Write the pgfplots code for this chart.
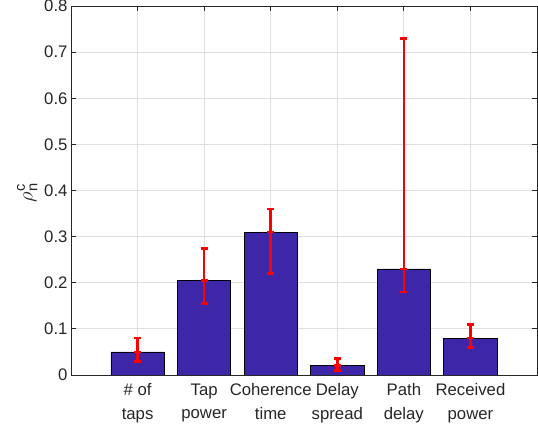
\documentclass[border=0pt]{standalone}
\usepackage{fontspec}
\setmainfont{Liberation Sans}
\usepackage{amsmath}
\usepackage{pgfplots}
\pgfplotsset{compat=1.18}
\usepackage{pgfplotstable}
\usetikzlibrary{calc}

\definecolor{barblue}{RGB}{62,38,168}
\definecolor{axgray}{RGB}{38,38,38}
\definecolor{gridgray}{RGB}{223,223,223}

% Mean correlation per channel feature, with upper/lower spread
\pgfplotstableread{
x  y      ep     em
1  0.050  0.030  0.020
2  0.205  0.070  0.050
3  0.310  0.050  0.090
4  0.020  0.015  0.010
5  0.230  0.500  0.050
6  0.080  0.030  0.020
}\corrdata

\begin{document}
\begin{tikzpicture}
\begin{axis}[
  scale only axis,
  width=466bp, height=369bp,
  xmin=0, xmax=7, ymin=0, ymax=0.8,
  xtick={1,2,3,4,5,6},
  xticklabels={{\# of\\taps},{Tap\\power},{Coherence\\time},{Delay\\spread},{Path\\delay},{Received\\power}},
  ytick={0,0.1,...,0.8},
  yticklabel style={/pgf/number format/.cd, fixed, precision=1, assume math mode=true},
  tick label style={font=\fontsize{16.8}{23.5}\selectfont, text=axgray},
  xticklabel style={align=center, yshift=-5bp},
  grid=major,
  major grid style={gridgray, line width=0.8bp},
  axis line style={axgray, line width=0.9bp},
  tick style={axgray, line width=0.8bp},
  tick align=inside,
  major tick length=5bp,
  ylabel={$\rho_{\text{n}}^{\text{c}}$},
  ylabel style={font=\fontsize{21}{24}\selectfont, text=axgray, xshift=-2bp},
  set layers=standard,
]
\coordinate (sw) at (rel axis cs:0,0);
\coordinate (ne) at (rel axis cs:1,1);
\addplot[ybar, bar width=0.8, fill=barblue, draw=black, line width=0.8bp]
  table[x=x, y=y] {\corrdata};
\addplot[draw=none, mark=-, mark size=3.5bp, mark options={red, line width=2.6bp},
  error bars/.cd, y dir=both, y explicit,
  error bar style={red, line width=2.6bp},
  error mark options={red, mark size=3.5bp, line width=2.8bp, rotate=90}]
  table[x=x, y=y, y error plus=ep, y error minus=em] {\corrdata};
\end{axis}
\pgfresetboundingbox
\path[use as bounding box] ($(sw)+(-71bp,-56bp)$) rectangle ($(ne)+(1bp,6bp)$);
\end{tikzpicture}
\end{document}
